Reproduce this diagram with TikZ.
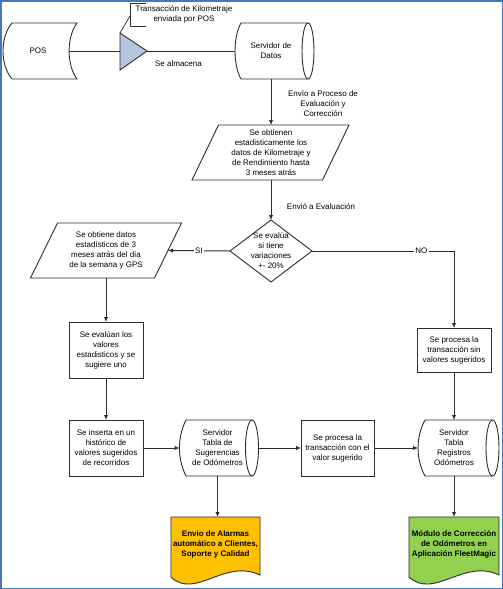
\documentclass[tikz,border=0pt]{standalone}
\usepackage{fontspec}
\setmainfont{Liberation Sans}
\usetikzlibrary{arrows.meta,calc}
\definecolor{frameblue}{RGB}{70,118,196}
\definecolor{trifill}{RGB}{180,198,222}
\definecolor{docyellow}{RGB}{255,192,0}
\definecolor{docgreen}{RGB}{146,208,80}
\definecolor{linegray}{RGB}{45,45,45}
\begin{document}
\begin{tikzpicture}[x=1pt,y=-1pt,
  txt/.style={font=\fontsize{8}{10}\selectfont, align=center, inner sep=0pt, outer sep=0pt},
  boldtxt/.style={txt, font=\fontsize{8}{10}\selectfont\bfseries},
  lbl/.style={txt},
  shapeline/.style={draw=linegray, line width=0.9pt},
  procbox/.style={txt, shapeline, fill=white},
  conn/.style={draw=linegray, line width=1pt},
  arr/.style={conn, -{Latex[length=5pt,width=4.5pt]}},
]
\useasboundingbox (0,0) rectangle (503,589);
\fill[white] (0,0) rectangle (503,589);

% ---------- shapes drawn directly ----------
% POS (stored data)
\draw[shapeline] (12,23) -- (77,23) .. controls (66.5,37) and (66.5,65) .. (77,79)
  -- (12,79) .. controls (0,65) and (0,37) .. (12,23) -- cycle;
% triangle
\coordinate (triN) at (120,33);
\coordinate (triW) at (120,51);
\coordinate (triE) at (147,51);
\coordinate (triS) at (120,70);
\draw[shapeline, fill=trifill] (triN) -- (triE) -- (triS) -- cycle;
% annotation bracket
\coordinate (annpt) at (130,16);
\draw[line width=0.7pt, draw=linegray] (146,3) -- (130,3) -- (130,26) -- (146,26);
\draw[line width=0.7pt, draw=linegray] (triN) -- (annpt);
% Servidor de Datos (cylinder)
\draw[shapeline] (241,23) -- (308,23) (241,79) -- (308,79)
  (241,23) .. controls (233,37) and (233,65) .. (241,79);
\draw[shapeline] (308,51) ellipse [x radius=6pt, y radius=28pt];
% parallelogram 1
\draw[shapeline] (218.5,125) -- (349,125) -- (322.5,180) -- (192,180) -- cycle;
% parallelogram 2
\draw[shapeline] (57.5,223) -- (181.5,223) -- (154.5,278) -- (30.5,278) -- cycle;
\coordinate (par2e) at (168,250.5);
% Servidor Tabla de Sugerencias
\draw[shapeline] (186,420) -- (252,420) (186,476) -- (252,476)
  (186,420) .. controls (177.3,437) and (177.3,459) .. (186,476);
\draw[shapeline] (252,448) ellipse [x radius=6.5pt, y radius=28pt];
% Servidor Tabla Registros
\draw[shapeline] (425,420) -- (492.5,420) (425,476) -- (492.5,476)
  (425,420) .. controls (415.7,437) and (415.7,459) .. (425,476);
\draw[shapeline] (492.5,448) ellipse [x radius=6.5pt, y radius=28pt];
% documents
\draw[shapeline, fill=docyellow] (171,517) -- (260,517) -- (260,575)
  .. controls (225,558) and (195,600) .. (171,577) -- cycle;
\draw[shapeline, fill=docgreen] (409,517) -- (499,517) -- (499,575)
  .. controls (464,558) and (434,600) .. (409,577) -- cycle;

% ---------- nodes ----------
\node[txt, minimum width=62pt, minimum height=56pt] (pos) at (38,51) {POS};
\node[txt, minimum width=72pt, minimum height=56pt] (srv) at (271,51) {Servidor de\\Datos};
\node[lbl] (ann) at (184,14) {Transacción de Kilometraje\\enviada por POS};
\node[txt, minimum width=100pt, minimum height=55pt] (par1) at (271,152.5)
  {Se obtienen\\estadisticamente los\\datos de Kilometraje y\\de Rendimiento hasta\\3 meses atrás};
\node[txt, minimum width=82pt, minimum height=62pt] (dia) at (271,251)
  {Se evalúa\\si tiene\\variaciones\\+- 20\%};
\draw[shapeline] (dia.north) -- (dia.east) -- (dia.south) -- (dia.west) -- cycle;
\node[txt, minimum width=90pt, minimum height=55pt] (par2) at (106,250.5)
  {Se obtiene datos\\estadísticos de 3\\meses atrás del día\\de la semana y GPS};
\node[procbox, minimum width=74pt, minimum height=56pt] (eval) at (106,350)
  {Se evalúan los\\valores\\estadisticos y se\\sugiere uno};
\node[procbox, minimum width=74pt, minimum height=44pt] (box2) at (454,350)
  {Se procesa la\\transacción sin\\valores sugeridos};
\node[procbox, minimum width=74pt, minimum height=56pt] (ins) at (106,448)
  {Se inserta en un\\histórico de\\valores sugeridos\\de recorridos};
\node[txt, minimum width=76pt, minimum height=56pt] (sug) at (217.5,448)
  {Servidor\\Tabla de\\Sugerencias\\de Odómetros};
\node[procbox, minimum width=73pt, minimum height=56pt] (proc) at (337.5,448)
  {Se procesa la\\transacción con el\\valor sugerido};
\node[txt, minimum width=72pt, minimum height=56pt] (reg) at (454,448)
  {Servidor\\Tabla\\Registros\\Odómetros};
\node[boldtxt, minimum width=89pt, minimum height=54pt] (doc1) at (215.5,544)
  {Envio de Alarmas\\automático a Clientes,\\Soporte y Calidad};
\node[boldtxt, minimum width=90pt, minimum height=54pt] (doc2) at (454,544)
  {Módulo de Corrección\\de Odómetros en\\Aplicación FleetMagic};

% ---------- connectors ----------
\draw[conn] (pos.east) -- (triW);
\draw[conn] (triE) -- (srv.west);
\node[lbl] (lalm) at (178.5,64) {Se almacena};
\draw[arr] (srv.south) -- (par1.north);
\node[lbl] (lenv) at (323,104) {Envío a Proceso de\\Evaluación y\\Corrección};
\draw[arr] (par1.south) -- (dia.north);
\node[lbl] (leva) at (321,207) {Envió a Evaluación};
\draw[arr] (dia.west) -- node[lbl, fill=white, inner sep=1.5pt] {SI} (par2e);
\draw[arr] (dia.east) -- node[lbl, fill=white, inner sep=1.5pt, pos=0.77] {NO} (dia.east -| box2.north) -- (box2.north);
\draw[arr] (par2.south) -- (eval.north);
\draw[arr] (eval.south) -- (ins.north);
\draw[arr] (box2.south) -- (reg.north);
\draw[arr] (ins.east) -- (sug.west);
\draw[arr] ([xshift=3pt]sug.east) -- (proc.west);
\draw[arr] (proc.east) -- (reg.west);
\draw[arr] (sug.south) -- (sug.south |- doc1.north);
\draw[arr] (reg.south) -- (doc2.north);

% frame
\draw[frameblue, line width=1.5pt] (0.75,0.75) rectangle (502.25,588.25);
\end{tikzpicture}
\end{document}
